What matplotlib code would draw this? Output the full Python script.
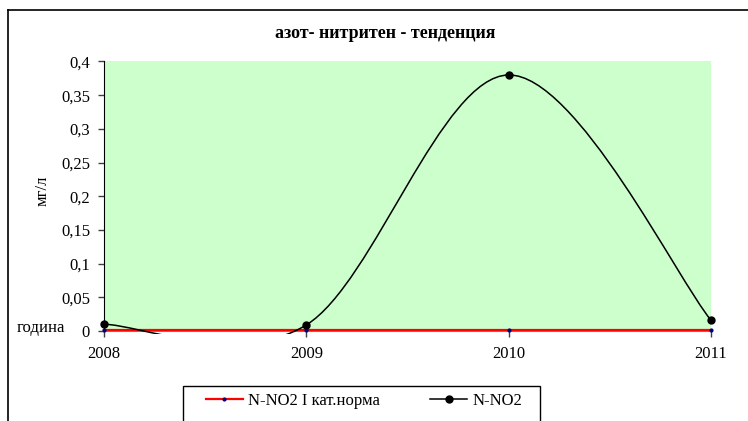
import matplotlib
matplotlib.use("Agg")
import matplotlib.pyplot as plt
from matplotlib.path import Path
from matplotlib.patches import PathPatch, Rectangle
from matplotlib.lines import Line2D
from matplotlib.ticker import FuncFormatter, FixedLocator

years = [2008, 2009, 2010, 2011]
no2 = [0.010, 0.009, 0.380, 0.016]
norm = [0.002, 0.002, 0.002, 0.002]
title = "азот- нитритен - тенденция"
ylabel = "мг/л"
xlabel = "година"
legend_labels = ["N-NO2 I кат.норма", "N-NO2"]

plt.rcParams['font.family'] = ['Liberation Serif', 'DejaVu Serif']
plt.rcParams['font.size'] = 12

W, H = 748, 421
fig = plt.figure(figsize=(W / 100, H / 100), dpi=100)
ax = fig.add_axes([104 / W, 1 - 331 / H, (711 - 104) / W, (331 - 61.5) / H])
ax.set_facecolor('#ccffcc')
ax.set_xlim(2008, 2011)
ax.set_ylim(0, 0.4)

# norm line
ax.plot(years, norm, color='red', lw=1.6, marker='o', ms=2, mfc='#000080', mec='#000080',
        zorder=3, clip_on=False)

# smoothed (Excel-like) curve from data points via Bezier segments
def smooth_path(xs, ys):
    pts = list(zip(xs, ys))
    verts = [pts[0]]
    codes = [Path.MOVETO]
    n = len(pts)
    for i in range(n - 1):
        p0 = pts[i - 1] if i > 0 else pts[i]
        p1 = pts[i]
        p2 = pts[i + 1]
        p3 = pts[i + 2] if i + 2 < n else pts[i + 1]
        c1 = (p1[0] + (p2[0] - p0[0]) / 6, p1[1] + (p2[1] - p0[1]) / 6)
        c2 = (p2[0] - (p3[0] - p1[0]) / 6, p2[1] - (p3[1] - p1[1]) / 6)
        verts += [c1, c2, p2]
        codes += [Path.CURVE4] * 3
    return Path(verts, codes)

patch = PathPatch(smooth_path(years, no2), fill=False, edgecolor='black', lw=1.1, zorder=4)
ax.add_patch(patch)
clip = Rectangle((0, -0.012), 1, 1.012, transform=ax.transAxes, visible=False)
ax.add_patch(clip)
patch.set_clip_path(clip)
ax.plot(years, no2, linestyle='none', marker='o', ms=5, color='black', zorder=5, clip_on=False)

ax.yaxis.set_major_locator(FixedLocator([0, 0.05, 0.1, 0.15, 0.2, 0.25, 0.3, 0.35, 0.4]))
ax.yaxis.set_major_formatter(FuncFormatter(lambda v, p: ('%g' % round(v, 2)).replace('.', ',')))
ax.set_xticks(years)
ax.set_xticklabels([str(y) for y in years])
ax.tick_params(axis='y', direction='out', length=4, width=1, color='#404040', pad=6, labelsize=12)
ax.tick_params(axis='x', direction='out', length=4, width=1, color='#404040', pad=7, labelsize=12)

for s in ['top', 'right']:
    ax.spines[s].set_visible(False)
ax.spines['left'].set_color('black')
ax.spines['bottom'].set_color('#808080')
ax.spines['bottom'].set_linewidth(1.5)

fig.text(43 / W, 1 - 191 / H, ylabel, rotation=90, ha='center', va='center', fontsize=12)
fig.text(17 / W, 1 - 328 / H, xlabel, ha='left', va='center', fontsize=12)
fig.text(385 / W, 1 - 33 / H, title, ha='center', va='center', fontsize=13, fontweight='bold')

# chart border
fig.add_artist(Line2D([8 / W, 8 / W], [0, 1 - 10 / H], color='black', lw=1.2, transform=fig.transFigure))
fig.add_artist(Line2D([8 / W, 1], [1 - 10 / H, 1 - 10 / H], color='black', lw=1.2, transform=fig.transFigure))

# legend
fig.add_artist(Rectangle((183 / W, -0.05), (540 - 183) / W, 0.05 + (421 - 386) / H,
                         transform=fig.transFigure, fill=False, edgecolor='black', lw=1))
handles = [Line2D([], [], color='red', lw=1.6, marker='o', ms=2, mfc='#000080', mec='#000080'),
           Line2D([], [], color='black', lw=1.1, marker='o', ms=5)]
fig.legend(handles, legend_labels, ncol=2, loc='center', bbox_to_anchor=(364 / W, 1 - 401 / H),
           frameon=False, handlelength=2.2, columnspacing=3.05, handletextpad=0.3, fontsize=12)

fig.savefig('out.png', dpi=100)
